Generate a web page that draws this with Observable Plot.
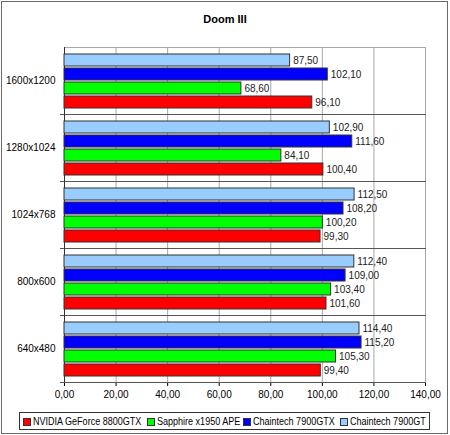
<!DOCTYPE html>
<html>
<head>
<meta charset="utf-8">
<script src="https://cdn.jsdelivr.net/npm/d3@7"></script>
<script src="https://cdn.jsdelivr.net/npm/@observablehq/plot@0.6"></script>
<style>
  body { margin: 0; background: #fff; font-family: "Liberation Sans", Arial, sans-serif; }
  #wrap { position: relative; width: 450px; height: 435px; }
  #border { position: absolute; left: 1px; top: 1px; width: 447px; height: 433px; box-sizing: border-box; border: 1px solid #6b6b6b; pointer-events: none; }
  #title { position: absolute; top: 13px; left: 0; width: 450px; text-align: center; font-weight: bold; font-size: 11px; color: #000; }
  #chart { position: absolute; left: 0; top: 0; }
  #legend { position: absolute; left: 19px; top: 412px; width: 411px; height: 18px; box-sizing: border-box; border: 1px solid #333; }
  .sw { position: absolute; top: 5px; width: 6px; height: 6px; border: 1px solid #333; }
  .lt { position: absolute; top: 2px; font-size: 11px; line-height: 12px; color: #000; white-space: nowrap; transform: scaleX(0.82); transform-origin: left center; }
</style>
</head>
<body>
<div id="wrap">
  <div id="chart"></div>
  <div id="title">Doom III</div>
  <div id="legend"></div>
  <div id="border"></div>
</div>
<script>
const resolutions = ["1600x1200", "1280x1024", "1024x768", "800x600", "640x480"];
const series = ["NVIDIA GeForce 8800GTX", "Sapphire x1950 APE", "Chaintech 7900GTX", "Chaintech 7900GT"];
const colors = ["#ff0000", "#00ff00", "#0000ff", "#99ccff"];
const nvidia8800gtx = [96.1, 100.4, 99.3, 101.6, 99.4];
const sapphireX1950 = [68.6, 84.1, 100.2, 103.4, 105.3];
const chaintech7900gtx = [102.1, 111.6, 108.2, 109.0, 115.2];
const chaintech7900gt = [87.5, 102.9, 112.5, 112.4, 114.4];
const xTicks = [0, 20, 40, 60, 80, 100, 120, 140];

const seriesValues = [nvidia8800gtx, sapphireX1950, chaintech7900gtx, chaintech7900gt];
const data = [];
resolutions.forEach((r, i) => {
  series.forEach((s, j) => data.push({res: r, series: s, value: seriesValues[j][i]}));
});
const fmt = v => v.toFixed(2).replace(".", ",");

const plot = Plot.plot({
  width: 450,
  height: 410,
  marginTop: 45,
  marginBottom: 26,
  marginLeft: 64,
  marginRight: 25,
  style: {fontFamily: "'Liberation Sans', Arial, sans-serif", fontSize: "10px", color: "#000", background: "transparent"},
  x: {domain: [0, 140], ticks: xTicks, tickFormat: fmt, tickSize: 4, tickPadding: 4, label: null},
  y: {domain: series.slice().reverse(), paddingInner: 0.15, paddingOuter: 0.38, axis: null},
  fy: {domain: resolutions, padding: 0, label: null, tickSize: 0, tickPadding: 9},
  color: {domain: series, range: colors},
  marks: [
    Plot.ruleX(xTicks.slice(1), {stroke: "#a8a8a8", strokeWidth: 1}),
    Plot.frame({anchor: "top", stroke: "#a8a8a8"}),
    Plot.frame({anchor: "bottom", stroke: "#555", insetLeft: -4}),
    Plot.ruleX([0], {stroke: "#333"}),
    Plot.barX(data, {fy: "res", y: "series", x: "value", fill: "series", stroke: "#333", strokeWidth: 1}),
    Plot.text(data, {fy: "res", y: "series", x: "value", text: d => fmt(d.value), textAnchor: "start", dx: 3, fill: "#222", fontSize: 10})
  ]
});
document.getElementById("chart").appendChild(plot);

// legend item positions (relative to legend box)
const swX = [3, 127, 223, 320];
const legend = document.getElementById("legend");
series.forEach((s, j) => {
  const sw = document.createElement("div");
  sw.className = "sw";
  sw.style.left = swX[j] + "px";
  sw.style.background = colors[j];
  const t = document.createElement("span");
  t.className = "lt";
  t.style.left = (swX[j] + 10) + "px";
  t.textContent = s;
  legend.appendChild(sw);
  legend.appendChild(t);
});
</script>
</body>
</html>
